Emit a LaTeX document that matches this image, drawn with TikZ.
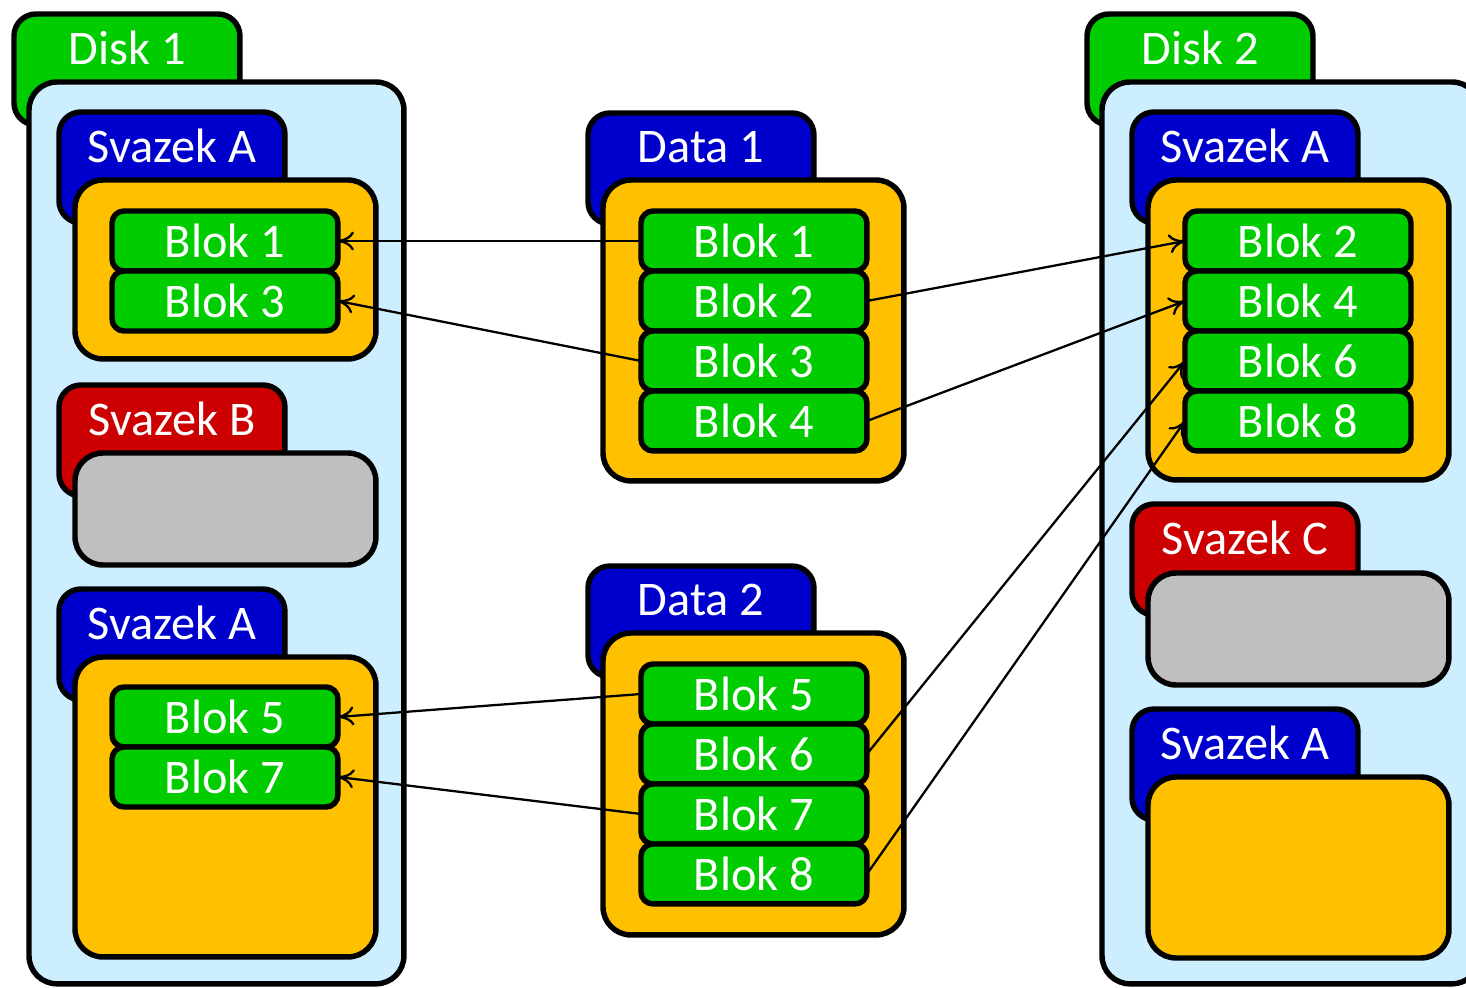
\documentclass[tikz,border=0pt]{standalone}
\usepackage{fontspec}
\setmainfont{Carlito}
\usetikzlibrary{arrows.meta,positioning}
\definecolor{diskgreen}{RGB}{0,204,0}
\definecolor{disklight}{RGB}{204,238,255}
\definecolor{tabblue}{RGB}{0,0,204}
\definecolor{tabred}{RGB}{204,0,0}
\definecolor{volorange}{RGB}{255,192,0}
\definecolor{volgrey}{RGB}{191,191,191}
\begin{document}
\begin{tikzpicture}[x=0.02cm, y=-0.02cm,
    every node/.style={outer sep=0pt, inner sep=0pt, text=white,
      font=\fontsize{27.5}{31}\selectfont},
    frame/.style={draw=black, line width=3.1pt, rounded corners=0.56cm, anchor=north west},
    tab/.style={draw=black, line width=3.1pt, rounded corners=0.44cm, anchor=north west,
      minimum width=4.52cm, minimum height=2.22cm},
    blok/.style={draw=black, line width=3.1pt, fill=diskgreen, rounded corners=0.24cm,
      minimum width=4.52cm, minimum height=1.2cm},
    link/.style={line width=1.3pt, -{To[length=3.2mm, width=3.8mm]}}]
  \useasboundingbox (0,0) rectangle (1466,987);
  \clip (0,0) rectangle (1466,987);

  % Disk 1
  \node[tab, fill=diskgreen] (disk1tab) at (14,14) {};
  \node[frame, fill=disklight, minimum width=7.5cm, minimum height=18.04cm] (disk1) at (29,82) {};
  \node (disk1lbl) at ([yshift=-0.68cm]disk1tab.north) {Disk 1};

  \node[tab, fill=tabblue] (d1satab) at (59,112) {};
  \node[frame, fill=volorange, minimum width=6.02cm, minimum height=3.58cm] (d1sa) at (75,180) {};
  \node (d1salbl) at ([yshift=-0.68cm]d1satab.north) {Svazek A};
  \node[blok, anchor=north west] (d1blok1) at (112,211) {Blok 1};
  \node[blok, below=0pt of d1blok1] (d1blok3) {Blok 3};

  \node[tab, fill=tabred] (d1sbtab) at (59,385) {};
  \node[frame, fill=volgrey, minimum width=6.02cm, minimum height=2.24cm] (d1sb) at (75,453) {};
  \node (d1sblbl) at ([yshift=-0.68cm]d1sbtab.north) {Svazek B};

  \node[tab, fill=tabblue] (d1sctab) at (59,589) {};
  \node[frame, fill=volorange, minimum width=6.02cm, minimum height=6cm] (d1sc) at (75,657) {};
  \node (d1sclbl) at ([yshift=-0.68cm]d1sctab.north) {Svazek A};
  \node[blok, anchor=north west] (d1blok5) at (112,687) {Blok 5};
  \node[blok, below=0pt of d1blok5] (d1blok7) {Blok 7};

  % Data 1
  \node[tab, fill=tabblue] (data1tab) at (588,113) {};
  \node[frame, fill=volorange, minimum width=6.02cm, minimum height=6.02cm] (data1) at (603,180) {};
  \node (data1lbl) at ([yshift=-0.68cm]data1tab.north) {Data 1};
  \node[blok, anchor=north west] (data1blok1) at (641,211) {Blok 1};
  \node[blok, below=0pt of data1blok1] (data1blok2) {Blok 2};
  \node[blok, below=0pt of data1blok2] (data1blok3) {Blok 3};
  \node[blok, below=0pt of data1blok3] (data1blok4) {Blok 4};

  % Data 2
  \node[tab, fill=tabblue] (data2tab) at (588,566) {};
  \node[frame, fill=volorange, minimum width=6.02cm, minimum height=6.04cm] (data2) at (603,633) {};
  \node (data2lbl) at ([yshift=-0.68cm]data2tab.north) {Data 2};
  \node[blok, anchor=north west] (data2blok5) at (641,664) {Blok 5};
  \node[blok, below=0pt of data2blok5] (data2blok6) {Blok 6};
  \node[blok, below=0pt of data2blok6] (data2blok7) {Blok 7};
  \node[blok, below=0pt of data2blok7] (data2blok8) {Blok 8};

  % Disk 2
  \node[tab, fill=diskgreen] (disk2tab) at (1087,14) {};
  \node[frame, fill=disklight, minimum width=7.56cm, minimum height=18.04cm] (disk2) at (1102,82) {};
  \node (disk2lbl) at ([yshift=-0.68cm]disk2tab.north) {Disk 2};

  \node[tab, fill=tabblue] (d2satab) at (1132,112) {};
  \node[frame, fill=volorange, minimum width=6.02cm, minimum height=6cm] (d2sa) at (1148,180) {};
  \node (d2salbl) at ([yshift=-0.68cm]d2satab.north) {Svazek A};
  \node[blok, anchor=north west] (d2blok2) at (1185,211) {Blok 2};
  \node[blok, below=0pt of d2blok2] (d2blok4) {Blok 4};
  \node[blok, below=0pt of d2blok4] (d2blok6) {Blok 6};
  \node[blok, below=0pt of d2blok6] (d2blok8) {Blok 8};

  \node[tab, fill=tabred] (d2sctab) at (1132,504) {};
  \node[frame, fill=volgrey, minimum width=6.02cm, minimum height=2.24cm] (d2sc) at (1148,573) {};
  \node (d2sclbl) at ([yshift=-0.68cm]d2sctab.north) {Svazek C};

  \node[tab, fill=tabblue] (d2sdtab) at (1132,709) {};
  \node[frame, fill=volorange, minimum width=6.02cm, minimum height=3.62cm] (d2sd) at (1148,777) {};
  \node (d2sdlbl) at ([yshift=-0.68cm]d2sdtab.north) {Svazek A};

  % links
  \draw[link] (data1blok1.west) -- (d1blok1.east);
  \draw[link] (data1blok3.west) -- (d1blok3.east);
  \draw[link] (data1blok2.east) -- (d2blok2.west);
  \draw[link] (data1blok4.east) -- (d2blok4.west);
  \draw[link] (data2blok5.west) -- (d1blok5.east);
  \draw[link] (data2blok7.west) -- (d1blok7.east);
  \draw[link] (data2blok6.east) -- (d2blok6.west);
  \draw[link] (data2blok8.east) -- (d2blok8.west);
\end{tikzpicture}
\end{document}
